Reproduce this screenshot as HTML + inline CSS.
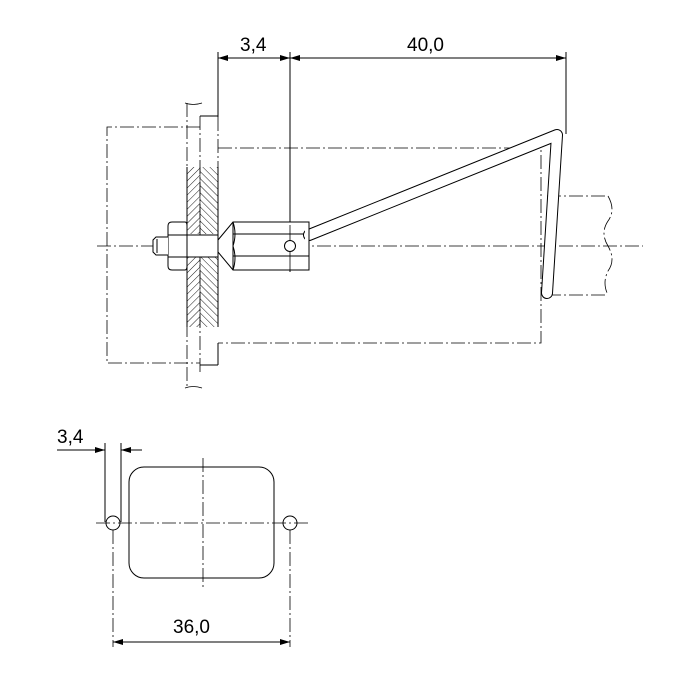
<!DOCTYPE html>
<html><head><style>html,body{margin:0;padding:0;background:#fff}svg{display:block}</style></head>
<body>
<svg width="700" height="700" viewBox="0 0 700 700" xmlns="http://www.w3.org/2000/svg">
<defs>
<pattern id="hL" width="5" height="5" patternUnits="userSpaceOnUse" patternTransform="rotate(45)"><line x1="0" y1="0" x2="0" y2="5" stroke="#000" stroke-width="0.9"/></pattern>
<pattern id="hR" width="5" height="5" patternUnits="userSpaceOnUse" patternTransform="rotate(-45)"><line x1="0" y1="0" x2="0" y2="5" stroke="#000" stroke-width="0.9"/></pattern>
<marker id="a" viewBox="0 0 10 6" refX="10" refY="3" markerWidth="10" markerHeight="6" orient="auto-start-reverse" markerUnits="userSpaceOnUse"><path d="M0,0L10,3L0,6z" fill="#000"/></marker>
</defs>
<g font-family="Liberation Sans, sans-serif" font-size="19" fill="#000">
<text x="240" y="51">3,4</text>
<text x="407" y="51">40,0</text>
<text x="57" y="443">3,4</text>
<text x="173" y="633">36,0</text>
</g>
<g stroke="#000" stroke-width="1" fill="none">
<line x1="218" y1="52" x2="218" y2="117"/>
<line x1="290" y1="52" x2="290" y2="272"/>
<line x1="566" y1="52" x2="566" y2="134"/>
<line x1="218" y1="58" x2="290" y2="58" marker-start="url(#a)" marker-end="url(#a)"/>
<line x1="290" y1="58" x2="566" y2="58" marker-start="url(#a)" marker-end="url(#a)"/>
<line x1="200" y1="116" x2="218" y2="116"/>
<line x1="200" y1="365" x2="218" y2="365"/>
<line x1="218" y1="343" x2="218" y2="365"/>
</g>
<g stroke="#000" stroke-width="0.8" fill="none" stroke-dasharray="14,3,2,3">
<line x1="97" y1="246" x2="643" y2="246"/>
<path d="M200,127 H107 V363 H200"/>
<line x1="187" y1="103" x2="187" y2="388"/>
<line x1="200" y1="116" x2="200" y2="375"/>
<path d="M218,148 H541 V343 H218"/>
<line x1="218" y1="117" x2="218" y2="167"/>
<path d="M547,196 H608 M547,295 H608"/>
<path d="M608,196 q8,14 0,25 q-8,12 0,25 q8,14 0,25 q-6,12 0,24"/>
</g>
<path d="M185,103 q8,3 17,0 M185,388 q8,-3 17,0" stroke="#000" stroke-width="0.8" fill="none"/>
<rect x="187" y="167" width="13" height="67" fill="url(#hL)"/>
<rect x="200" y="167" width="18" height="67" fill="url(#hR)"/>
<rect x="187" y="257" width="13" height="70" fill="url(#hL)"/>
<rect x="200" y="257" width="18" height="70" fill="url(#hR)"/>
<g stroke="#000" stroke-width="1" fill="none">
<line x1="187" y1="167" x2="187" y2="327"/>
<line x1="218" y1="167" x2="218" y2="327"/>
<line x1="200" y1="167" x2="200" y2="327" stroke-width="0.6"/>
<rect x="187" y="235" width="31" height="22" fill="#fff"/>
<path d="M168,226 q0,-4 4,-4 h13 q2,0 2,4 v40 q0,4 -2,4 h-13 q-4,0 -4,-4 z" fill="#fff"/>
<line x1="168" y1="235" x2="187" y2="235"/><line x1="168" y1="257" x2="187" y2="257"/>
<path d="M168,237 h-12 l-3,3 v12 l3,3 h12" fill="#fff"/>
<line x1="157" y1="239" x2="157" y2="253"/>
<path d="M218,240 L233,222 H309 V270 H233 L218,252 Z" fill="#fff"/>
<line x1="233" y1="222" x2="233" y2="270"/>
<line x1="233" y1="234" x2="309" y2="234"/><line x1="233" y1="256" x2="309" y2="256"/>
<path d="M233,222 q4,12 0,24 q4,12 0,24"/>
<line x1="290" y1="225" x2="290" y2="272" stroke-width="0.8"/>
<circle cx="290" cy="246" r="5.5" fill="#fff"/>
</g>
<polyline points="309,235 557,135 547,293" fill="none" stroke="#000" stroke-width="12" stroke-linecap="round" stroke-linejoin="round"/>
<polyline points="309,235 557,135 547,293" fill="none" stroke="#fff" stroke-width="10" stroke-linecap="round" stroke-linejoin="round"/>
<rect x="305" y="225" width="4" height="22" fill="#fff"/>
<line x1="309" y1="225" x2="309" y2="248" stroke="#000"/>
<g stroke="#000" stroke-width="1" fill="none">
<line x1="57" y1="450" x2="105" y2="450" marker-end="url(#a)"/>
<line x1="142" y1="450" x2="121" y2="450" marker-end="url(#a)"/>
<line x1="105" y1="443" x2="105" y2="522"/>
<line x1="121" y1="443" x2="121" y2="522"/>
<rect x="129" y="467" width="145" height="111" rx="15"/>
<circle cx="113" cy="523" r="7"/>
<circle cx="290" cy="523" r="7"/>
<line x1="113" y1="642" x2="290" y2="642" marker-start="url(#a)" marker-end="url(#a)"/>
</g>
<g stroke="#000" stroke-width="0.8" fill="none" stroke-dasharray="14,3,2,3">
<line x1="96" y1="523" x2="310" y2="523"/>
<line x1="203" y1="458" x2="203" y2="588"/>
<line x1="113" y1="530" x2="113" y2="647"/>
<line x1="290" y1="530" x2="290" y2="647"/>
</g>
</svg>
</body></html>
